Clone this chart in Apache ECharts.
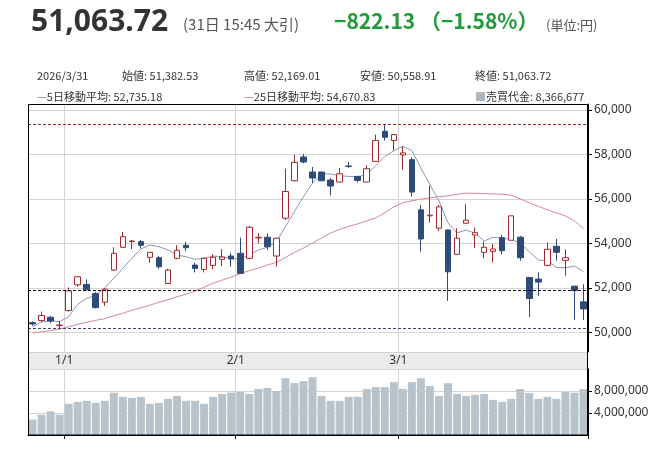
<!DOCTYPE html>
<html>
<head>
<meta charset="utf-8">
<title>日経平均株価 日足</title>
<script src="https://cdn.jsdelivr.net/npm/echarts@6/dist/echarts.min.js"></script>
<style>
  html, body { margin: 0; padding: 0; background: #fff; }
  #chart { width: 669px; height: 450px; }
</style>
</head>
<body>
<div id="chart"></div>
<script>
// Trading days shown on the chart
var dates = [
  '2025/12/25', '2025/12/26', '2025/12/29', '2025/12/30',
  '2026/1/5', '2026/1/6', '2026/1/7', '2026/1/8', '2026/1/9', '2026/1/13', '2026/1/14', '2026/1/15',
  '2026/1/16', '2026/1/19', '2026/1/20', '2026/1/21', '2026/1/22', '2026/1/23', '2026/1/26', '2026/1/27',
  '2026/1/28', '2026/1/29', '2026/1/30',
  '2026/2/2', '2026/2/3', '2026/2/4', '2026/2/5', '2026/2/6', '2026/2/9', '2026/2/10', '2026/2/12',
  '2026/2/13', '2026/2/16', '2026/2/17', '2026/2/18', '2026/2/19', '2026/2/20', '2026/2/24', '2026/2/25',
  '2026/2/26', '2026/2/27',
  '2026/3/2', '2026/3/3', '2026/3/4', '2026/3/5', '2026/3/6', '2026/3/9', '2026/3/10', '2026/3/11',
  '2026/3/12', '2026/3/13', '2026/3/16', '2026/3/17', '2026/3/18', '2026/3/19', '2026/3/23', '2026/3/24',
  '2026/3/25', '2026/3/26', '2026/3/27', '2026/3/30', '2026/3/31'
];

// Daily prices
var opens = [
  50450, 50541, 50689, 50320,
  50991, 52144, 52162, 51757, 51365, 52807, 53829, 54090, 54082, 53379, 53361, 52207, 53334, 53919, 53032,
  52838, 53018, 53289, 53437,
  53559, 53334, 54250, 54280, 53437, 55136, 56816, 57884, 57208, 57208, 56848, 56758, 57478, 57010, 56758,
  57686, 59037, 58618,
  57974, 57762, 55510, 55240, 54685, 54609, 53514, 54910, 54383, 53604, 53649, 54262, 54145, 54280, 52478,
  52401, 53018, 53874, 53244, 52086, 51382.53
];
var closes = [
  50387, 50766, 50523, 50339,
  51874, 52505, 51919, 51126, 51951, 53559, 54307, 54110, 53919, 53604, 52955, 52807, 53694, 53811, 52883,
  53334, 53379, 53392, 53302,
  52658, 54730, 54275, 53856, 54235, 56334, 57641, 57659, 56937, 56816, 56578, 57131, 57460, 56830, 57357,
  58618, 58767, 58888,
  58064, 56307, 54203, 55270, 55645, 52730, 54235, 55046, 54487, 53829, 53752, 53676, 55240, 53361, 51532,
  52266, 53739, 53604, 53361, 51885.85, 51063.72
];
var lows = [
  50315, 50478, 50419, 50180,
  50946, 52054, 51905, 51081, 51198, 52762, 53811, 53739, 53780, 53135, 52865, 52189, 53289, 53663, 52703,
  52703, 52852, 52987, 52955,
  52640, 53289, 54010, 53708, 52955, 55059, 56785, 57596, 56713, 56790, 56154, 56740, 57388, 56740, 56740,
  57670, 58618, 58168,
  57311, 56109, 53631, 54937, 54564, 51424, 53500, 54900, 53811, 53334, 53153, 53514, 54140, 53226, 50703,
  51649, 53010, 53226, 52550, 50586, 50558.91
];
var highs = [
  50509, 50946, 50748, 50523,
  52027, 52536, 52387, 51816, 51982, 53829, 54519, 54158, 54158, 53604, 53437, 52865, 53919, 54068, 53135,
  53379, 53514, 53753, 53586,
  54262, 54789, 54460, 54460, 54250, 57357, 57988, 58019, 57433, 57230, 56938, 57388, 57659, 57041, 57505,
  58888, 59370, 58900,
  58361, 57866, 55735, 56604, 55735, 54620, 54685, 55766, 54712, 54082, 53978, 54383, 55250, 54338, 52490,
  52703, 54037, 54203, 53739, 52100, 52169.01
];

// Moving averages
var ma5 = [
  50261, 50478, 50523, 50496,
  50712, 51275, 51532, 51680, 51996, 52446, 52883, 53334, 53753, 53933, 53856, 53708, 53482, 53406, 53289,
  53334, 53437, 53406, 53334,
  53302, 53482, 53708, 53829, 54082, 54757, 55433, 56109, 56712, 57131, 57118, 57041, 57010, 56996, 57086,
  57492, 57897, 58168,
  58361, 58168, 57388, 56636, 55915, 54924, 54473, 54609, 54460, 54113, 54280, 54235, 54190, 54010, 53631,
  53257, 53226, 52928, 52910, 52987, 52735.18
];
var ma25 = [
  49982, 50036, 50095, 50158,
  50261, 50374, 50464, 50554, 50622, 50757, 50869, 51005, 51117, 51230, 51365, 51478, 51613, 51725, 51861,
  52041, 52221, 52356, 52491,
  52649, 52784, 52897, 53032, 53154, 53370, 53595, 53798, 54023, 54248, 54473, 54631, 54766, 54879, 55014,
  55149, 55374, 55645,
  55825, 55915, 55992, 56050, 56095, 56140, 56208, 56262, 56253, 56239, 56230, 56208, 56163, 56005, 55825,
  55667, 55510, 55374, 55239, 55014, 54670.83
];

// Trading value
var volumes = [
  2810000, 3700000, 4300000, 3700000,
  5670000, 6030000, 6210000, 5850000, 6210000, 7700000, 6930000, 6750000, 6930000, 5670000, 5850000,
  6570000, 7100000, 6210000, 6210000, 5670000, 6930000, 7460000, 7700000,
  7880000, 7460000, 8360000, 8540000, 8000000, 10330000, 9430000, 9790000, 10510000, 7100000, 6210000,
  6210000, 6930000, 6930000, 8360000, 8720000, 8720000, 9610000,
  8360000, 9610000, 10330000, 8900000, 7100000, 9430000, 7460000, 7100000, 7280000, 7460000, 6390000,
  6030000, 6570000, 8360000, 7640000, 6570000, 6930000, 6570000, 7820000, 7700000, 8366677
];

var prevClose = 51885.85;
var last = dates.length - 1;

function fmt(v, d) {
  return v.toLocaleString('en-US', { minimumFractionDigits: d, maximumFractionDigits: d });
}

// first trading day of each month
function isMonthStart(index) {
  if (index === 0) return false;
  return dates[index].split('/')[1] !== dates[index - 1].split('/')[1];
}

var change = closes[last] - prevClose;
var changePct = change / prevClose * 100;

var font = '"Noto Sans", "Noto Sans CJK JP", sans-serif';
var jpFont = '"Noto Sans CJK JP", sans-serif';
var gridColor = '#d4d4d4';

var myChart = echarts.init(document.getElementById('chart'));

var infoStyle = { fontSize: 11, color: '#333', fontWeight: 'normal', fontFamily: jpFont };

var option = {
  animation: false,
  title: [
    { text: fmt(closes[last], 2), left: 26, top: 2,
      textStyle: { fontSize: 30, fontWeight: 'bold', color: '#333', fontFamily: font } },
    { text: '(31日 15:45 大引)', left: 178, top: 12,
      textStyle: { fontSize: 15, fontWeight: 'normal', color: '#555', fontFamily: jpFont } },
    { text: '−' + fmt(-change, 2) + ' （−' + fmt(-changePct, 2) + '%）', left: 329, top: 6,
      textStyle: { fontSize: 21, fontWeight: 'bold', color: '#1f9b3a', fontFamily: jpFont } },
    { text: '(単位:円)', left: 541, top: 14,
      textStyle: { fontSize: 13, fontWeight: 'normal', color: '#555', fontFamily: jpFont } },

    { text: dates[last], left: 32, top: 65, textStyle: infoStyle },
    { text: '始値: ' + fmt(opens[last], 2), left: 117, top: 65, textStyle: infoStyle },
    { text: '高値: ' + fmt(highs[last], 2), left: 239, top: 65, textStyle: infoStyle },
    { text: '安値: ' + fmt(lows[last], 2), left: 355, top: 65, textStyle: infoStyle },
    { text: '終値: ' + fmt(closes[last], 2), left: 470, top: 65, textStyle: infoStyle },

    { text: '{d5|—}5日移動平均: ' + fmt(ma5[last], 2), left: 32, top: 86,
      textStyle: Object.assign({ rich: { d5: { color: '#5f7399', fontSize: 11 } } }, infoStyle) },
    { text: '{d25|—}25日移動平均: ' + fmt(ma25[last], 2), left: 239, top: 86,
      textStyle: Object.assign({ rich: { d25: { color: '#b5636b', fontSize: 11 } } }, infoStyle) },
    { text: '{sq|■}売買代金: ' + fmt(volumes[last], 0), left: 470, top: 86,
      textStyle: Object.assign({ rich: { sq: { color: '#aab5be', fontSize: 11 } } }, infoStyle) }
  ],
  grid: [
    { left: 28, right: 81, top: 104, height: 248 },
    { left: 28, right: 81, top: 352, height: 17, show: true, backgroundColor: '#ebebeb', borderWidth: 0 },
    { left: 28, right: 81, top: 369, height: 66 }
  ],
  xAxis: [
    {
      type: 'category', gridIndex: 0, data: dates, boundaryGap: true,
      axisLine: { show: false }, axisTick: { show: false }, axisLabel: { show: false },
      splitLine: { show: true, interval: isMonthStart, lineStyle: { color: gridColor } }
    },
    {
      type: 'category', gridIndex: 1, data: dates, boundaryGap: true,
      axisLine: { show: false }, axisTick: { show: false },
      axisLabel: {
        interval: isMonthStart, inside: true, margin: 2, padding: [0, 9, 0, 0],
        fontSize: 12, color: '#333', fontFamily: font,
        formatter: function (v) { return v.split('/')[1] + '/1'; }
      }
    },
    {
      type: 'category', gridIndex: 2, data: dates, boundaryGap: true,
      axisLine: { show: true, lineStyle: { color: '#000' } },
      axisTick: { show: true, interval: isMonthStart, length: 4, lineStyle: { color: '#000' } },
      axisLabel: { show: false },
      splitLine: { show: true, interval: isMonthStart, lineStyle: { color: gridColor } }
    }
  ],
  yAxis: [
    {
      type: 'value', gridIndex: 0, position: 'right', scale: true,
      min: 49130, max: 60260, splitNumber: 5,
      axisLine: { show: true, lineStyle: { color: '#000' } },
      axisTick: { show: true, length: 4, lineStyle: { color: '#000' } },
      axisLabel: {
        fontSize: 12, color: '#333', margin: 6, fontFamily: font,
        showMinLabel: false, showMaxLabel: false,
        formatter: function (v) { return fmt(v, 0); }
      },
      splitLine: { lineStyle: { color: gridColor } }
    },
    { type: 'value', gridIndex: 1, show: false },
    {
      type: 'value', gridIndex: 2, position: 'right',
      min: 0, max: 12000000, interval: 4000000,
      axisLine: { show: true, lineStyle: { color: '#000' } },
      axisTick: { show: true, length: 4, lineStyle: { color: '#000' } },
      axisLabel: {
        fontSize: 12, color: '#333', margin: 6, fontFamily: font,
        showMinLabel: false, showMaxLabel: false,
        formatter: function (v) { return fmt(v, 0); }
      },
      splitLine: { lineStyle: { color: gridColor } }
    }
  ],
  series: [
    {
      name: '5日移動平均', type: 'line', xAxisIndex: 0, yAxisIndex: 0,
      data: ma5, symbol: 'none', silent: true, z: 2,
      lineStyle: { width: 1, color: '#8796b8' }
    },
    {
      name: '25日移動平均', type: 'line', xAxisIndex: 0, yAxisIndex: 0,
      data: ma25, symbol: 'none', silent: true, z: 2,
      lineStyle: { width: 1, color: '#d28a92' }
    },
    {
      name: '日足', type: 'candlestick', xAxisIndex: 0, yAxisIndex: 0, z: 3,
      barWidth: 6,
      // echarts wants [open, close, lowest, highest]
      data: dates.map(function (d, i) { return [opens[i], closes[i], lows[i], highs[i]]; }),
      itemStyle: {
        color: '#ffffff', borderColor: '#a3282e',
        color0: '#2f4c78', borderColor0: '#2f4c78', borderWidth: 1
      },
      markLine: {
        symbol: 'none', silent: true, label: { show: false },
        data: [
          { type: 'max', valueDim: 'highest', lineStyle: { color: '#a3282e', type: [3, 2], width: 1 } },
          { yAxis: prevClose, lineStyle: { color: '#000', type: [3, 2], width: 1 } },
          { type: 'min', valueDim: 'lowest', lineStyle: { color: '#33466c', type: [3, 2], width: 1 } }
        ]
      }
    },
    {
      name: '売買代金', type: 'bar', xAxisIndex: 2, yAxisIndex: 2,
      data: volumes, barCategoryGap: '12%', silent: true,
      itemStyle: { color: '#b8c3cb' }
    }
  ],
  graphic: [
    {
      type: 'rect', z: 100, silent: true,
      shape: { x: 28.5, y: 104.5, width: 559, height: 330.5 },
      style: { fill: 'none', stroke: '#000', lineWidth: 1 }
    }
  ]
};

myChart.setOption(option);
</script>
</body>
</html>
